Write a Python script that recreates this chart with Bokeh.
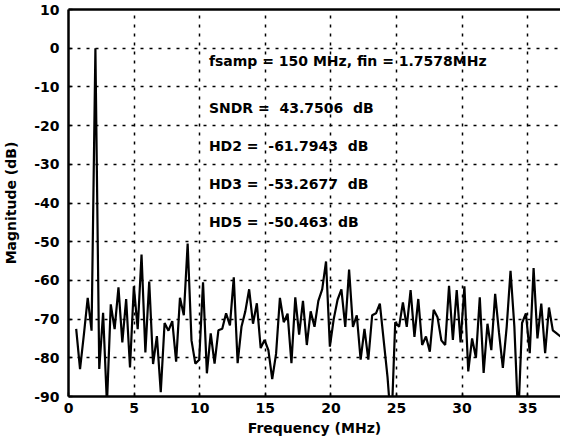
from bokeh.plotting import figure
from bokeh.models import LinearAxis, FixedTicker, Range1d, ColumnDataSource, PrintfTickFormatter
from bokeh.core.properties import value
from bokeh.embed import file_html
from bokeh.resources import INLINE

# FFT of 512 points at fs = 150 MHz, bins plotted with 1-based index (k = 2..128)
fs_mhz = 150.0
n_fft = 512
first_bin = 2
mag_db = [
    -72.5, -82.9, -74.0, -64.5, -73.0, 0.0, -82.9, -68.4, -92.0, -66.2,   # k 2-11
    -72.6, -61.8, -76.0, -64.8, -82.5, -61.5, -72.6, -53.3, -78.6, -60.3,  # k 12-21
    -81.6, -74.4, -88.9, -71.0, -73.0, -70.5, -81.0, -64.5, -69.0, -50.5,  # k 22-31
    -75.5, -81.5, -80.5, -60.5, -84.0, -73.7, -81.5, -72.9, -72.5, -68.5,  # k 32-41
    -71.6, -59.2, -81.4, -72.0, -68.0, -62.3, -71.2, -65.9, -77.5, -75.4,  # k 42-51
    -78.0, -85.5, -79.0, -64.5, -70.8, -68.6, -81.4, -64.4, -74.0, -65.3,  # k 52-61
    -76.7, -68.0, -72.0, -65.3, -62.3, -55.1, -77.1, -70.0, -65.0, -62.3,  # k 62-71
    -72.0, -57.2, -72.0, -69.0, -80.5, -72.5, -80.5, -69.0, -68.5, -66.0,  # k 72-81
    -75.5, -85.0, -98.0, -70.8, -72.0, -65.7, -72.0, -62.5, -74.6, -64.8,  # k 82-91
    -76.7, -74.5, -78.4, -67.6, -69.5, -75.5, -76.7, -61.4, -75.4, -62.5,  # k 92-101
    -76.0, -61.5, -83.5, -75.0, -80.0, -64.4, -83.9, -71.2, -78.0, -63.5,  # k 102-111
    -73.5, -82.6, -72.0, -57.5, -72.0, -96.0, -71.0, -68.5, -78.8, -56.8,  # k 112-121
    -75.0, -66.0, -78.8, -67.0, -72.9, -73.7, -74.5,                       # k 122-128
]
freq_mhz = [(first_bin + i) * fs_mhz / n_fft for i in range(len(mag_db))]

x_ticks = [0, 5, 10, 15, 20, 25, 30, 35]
y_ticks = [-90, -80, -70, -60, -50, -40, -30, -20, -10, 0, 10]

NB = "\u00a0"
ann_lines = [
    "fsamp = 150 MHz, fin = 1.7578MHz",
    "SNDR =" + NB * 2 + "43.7506" + NB * 2 + "dB",
    "HD2 =" + NB + " -61.7943" + NB * 2 + "dB",
    "HD3 =" + NB + " -53.2677" + NB * 2 + "dB",
    "HD5 =" + NB + " -50.463" + NB * 2 + "dB",
]
ann_y = [-3.2, -15.4, -25.4, -35.2, -45.0]
ann_x = [10.7] * len(ann_lines)

FONT = "DejaVu Sans"

p = figure(width=560, height=440, output_backend="svg", toolbar_location=None,
           x_range=Range1d(0, 37.5), y_range=Range1d(-90, 10),
           min_border_left=64, min_border_right=0, min_border_top=9,
           min_border_bottom=44, background_fill_color="white",
           border_fill_color="white")
p.outline_line_color = None

src = ColumnDataSource(data=dict(x=freq_mhz, y=mag_db))
p.line("x", "y", source=src, line_color="black", line_width=2.2)

p.text(x=ann_x, y=ann_y, text=ann_lines, text_font=value(FONT),
       text_font_size="14px", text_font_style="bold", text_baseline="middle",
       text_align="left", text_color="black")

for ax in (p.xaxis[0], p.yaxis[0]):
    ax.axis_line_width = 2.5
    ax.axis_line_color = "black"
    ax.major_tick_in = 4
    ax.major_tick_out = 0
    ax.minor_tick_line_color = None
    ax.major_tick_line_width = 1.5
    ax.major_tick_line_color = "black"
    ax.major_label_text_font = FONT
    ax.major_label_text_font_size = "14px"
    ax.major_label_text_font_style = "bold"
    ax.major_label_text_color = "black"
    ax.axis_label_text_font = FONT
    ax.axis_label_text_font_size = "14px"
    ax.axis_label_text_font_style = "bold"
    ax.axis_label_text_color = "black"
    ax.formatter = PrintfTickFormatter(format="%d")

p.xaxis[0].ticker = FixedTicker(ticks=x_ticks)
p.yaxis[0].ticker = FixedTicker(ticks=y_ticks)
p.xaxis[0].axis_label = "Frequency (MHz)"
p.xaxis[0].axis_label_standoff = 4
p.xaxis[0].major_label_standoff = 6
p.yaxis[0].axis_label = "Magnitude (dB)"
p.yaxis[0].axis_label_standoff = 12
p.yaxis[0].major_label_standoff = 9

top_axis = LinearAxis(ticker=FixedTicker(ticks=[]), axis_line_width=2.5,
                      axis_line_color="black", major_tick_in=0, major_tick_out=0,
                      minor_tick_in=0, minor_tick_out=0)
p.add_layout(top_axis, "above")

p.xgrid.ticker = FixedTicker(ticks=x_ticks[1:])
p.ygrid.ticker = FixedTicker(ticks=y_ticks[1:-1])
for g in (p.xgrid[0], p.ygrid[0]):
    g.grid_line_color = "black"
    g.grid_line_alpha = 1.0
    g.grid_line_dash = "3 6"
    g.grid_line_width = 1.5

open("out.html", "w").write(file_html(p, INLINE))
